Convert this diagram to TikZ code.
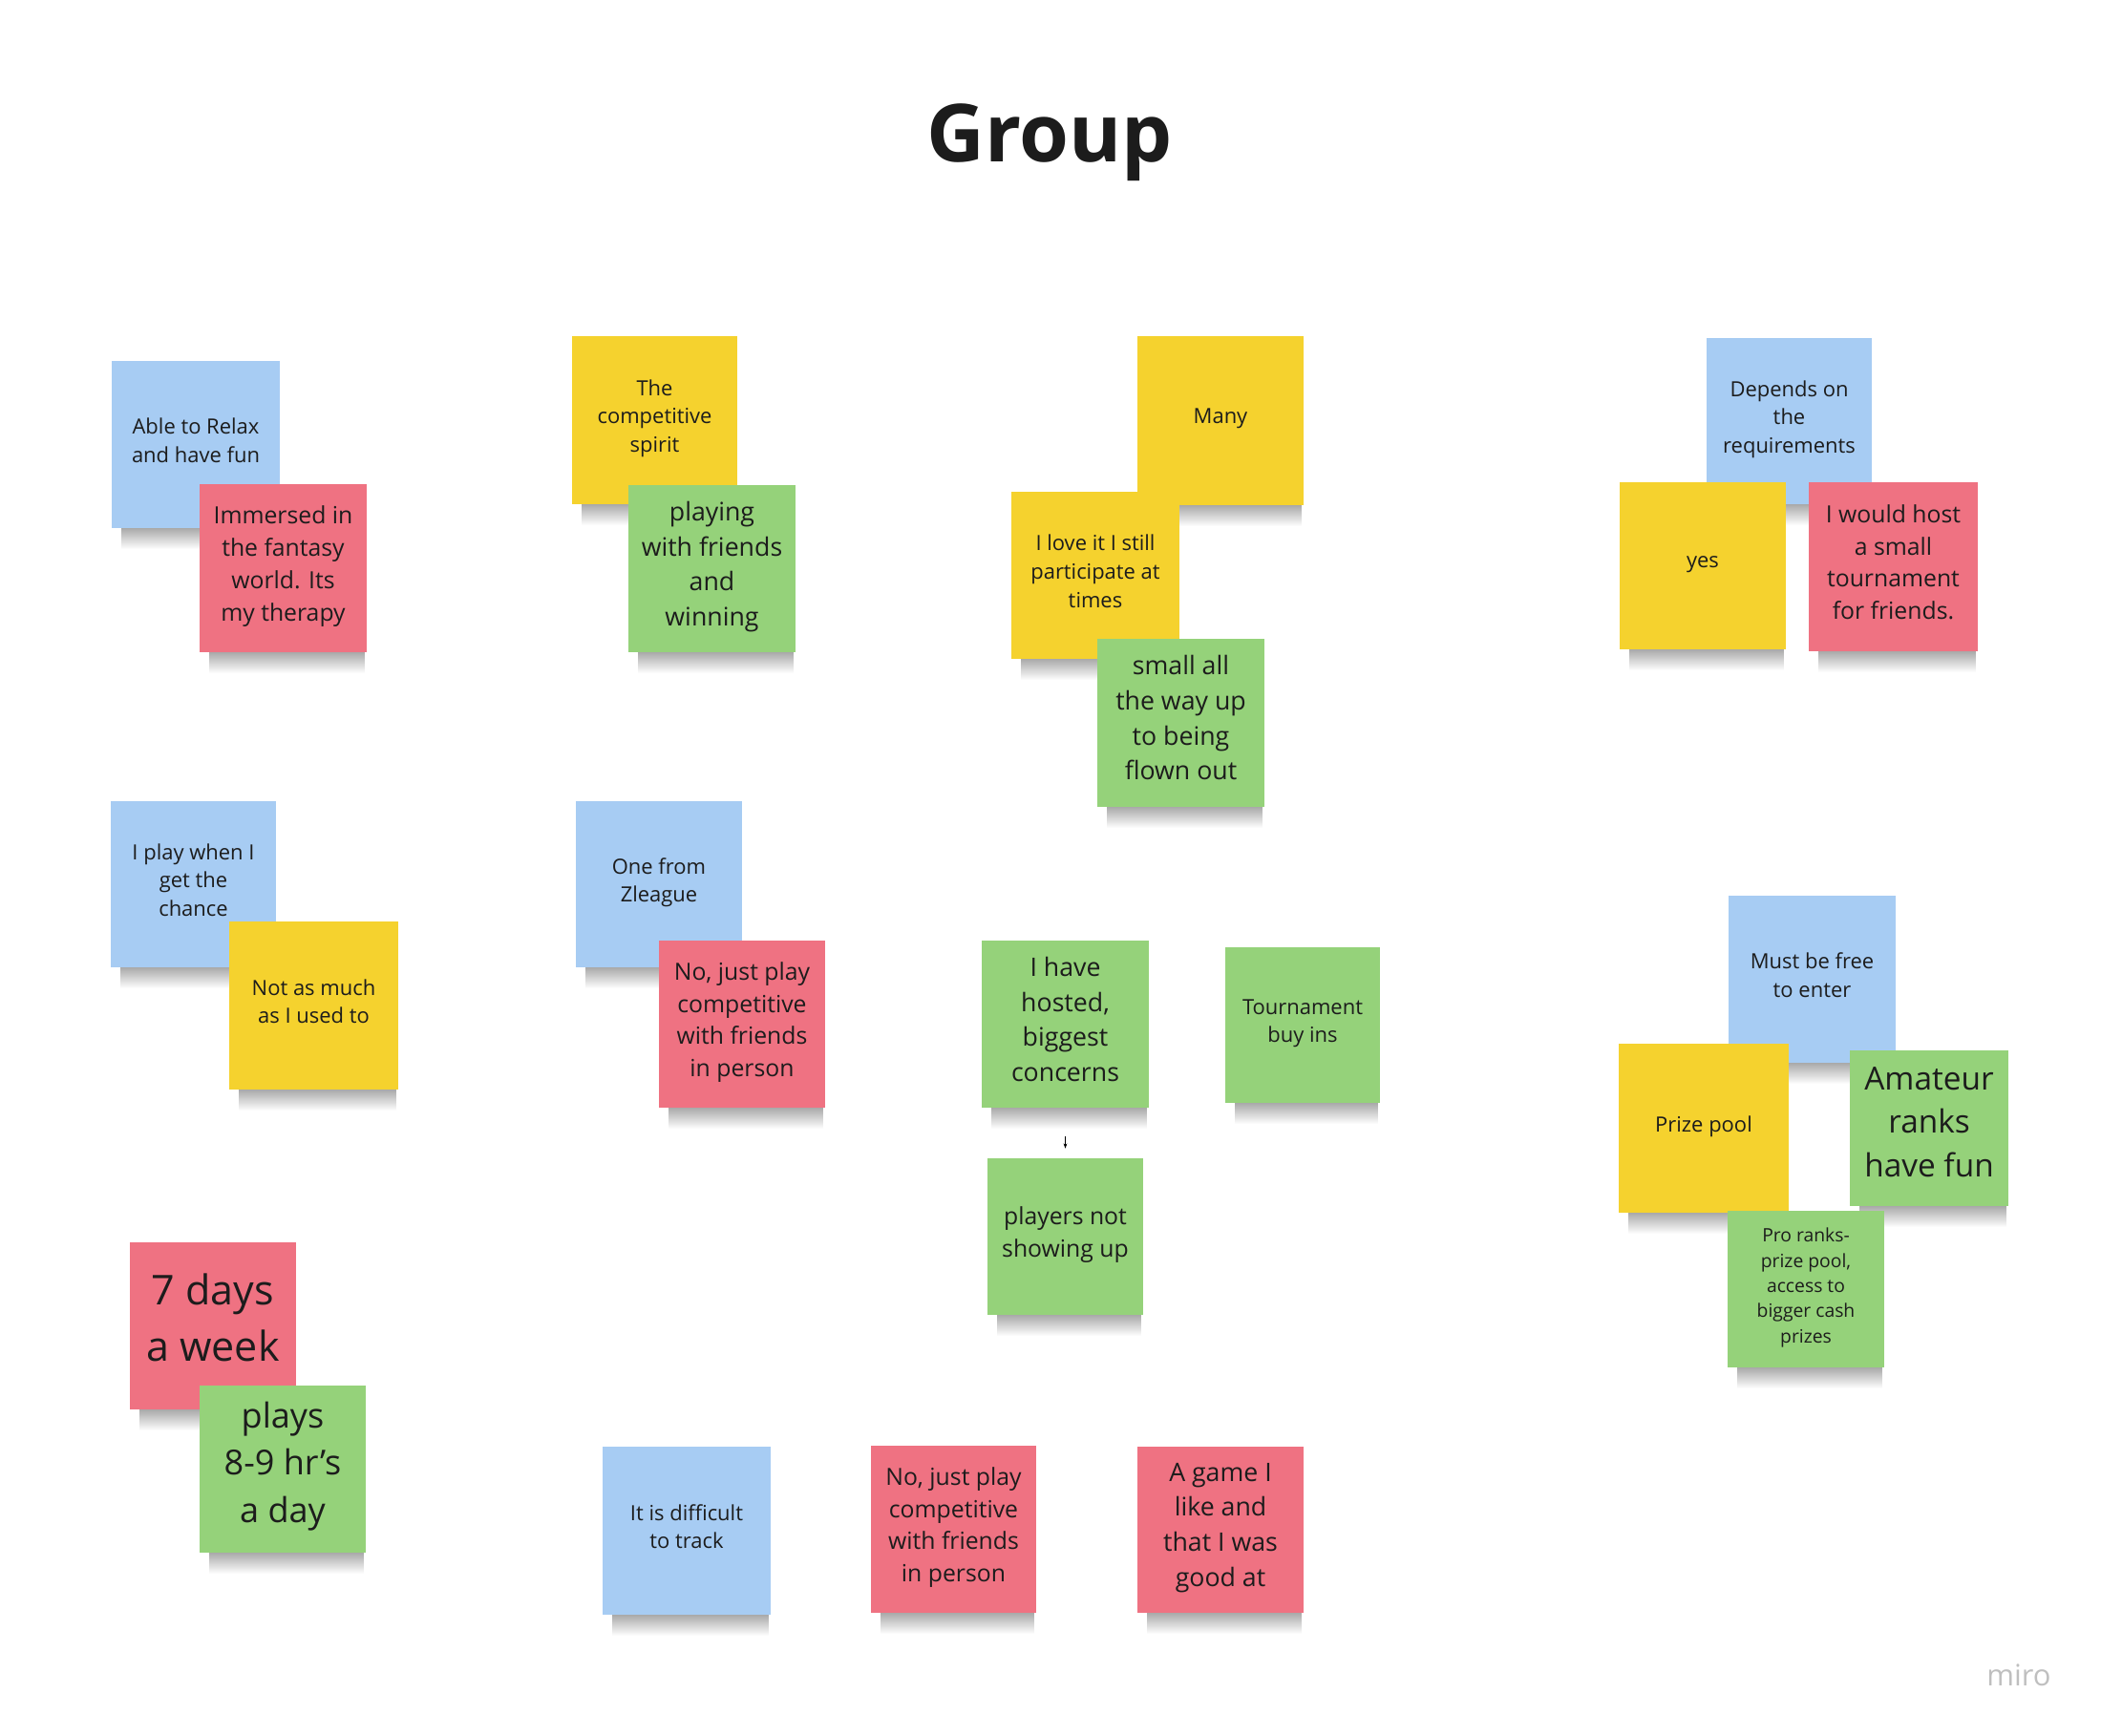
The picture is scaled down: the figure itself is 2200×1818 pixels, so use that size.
\documentclass[tikz,border=0pt]{standalone}
\usepackage{fontspec}
\setmainfont{Open Sans}
\usepackage{tikz}
\usetikzlibrary{fadings}
\usetikzlibrary{arrows.meta}
\definecolor{noteblue}{HTML}{A7CCF3}
\definecolor{noteyellow}{HTML}{F5D22E}
\definecolor{notered}{HTML}{EF7282}
\definecolor{notegreen}{HTML}{95D27A}
\definecolor{inkdark}{HTML}{1C1C1C}
\tikzfading[name=shadowfade, top color=transparent!0, bottom color=transparent!100]
\tikzset{
  note/.style={inner sep=0pt, align=center, text=inkdark},
  sizeS/.style={font=\fontsize{12.5}{17}\selectfont, text depth=5pt},
  sizeM/.style={font=\fontsize{14.1}{19.2}\selectfont, text depth=5.6pt},
  sizeL/.style={font=\fontsize{15.2}{20.8}\selectfont, text depth=6.1pt},
  sizeT/.style={font=\fontsize{11}{15}\selectfont, text depth=4.4pt},
  sizeXL/.style={font=\fontsize{19}{26}\selectfont, text depth=7.6pt},
  sizeXXL/.style={font=\fontsize{20.5}{27.9}\selectfont, text depth=8.2pt},
  sizeXXXL/.style={font=\fontsize{24.5}{33.6}\selectfont, text depth=9.8pt},
  tinyarrow/.style={line width=0.4pt, -{Stealth[length=3pt,width=2.2pt]}}
}
\newcommand{\sticky}[8]{ \pgfmathsetmacro\nw{(#5-#3)*0.02} \pgfmathsetmacro\nh{(#6-#4)*0.02} \fill[black, fill opacity=0.4, path fading=shadowfade] (#3+10, #6-4) rectangle (#5-2, #6+22); \node[note, fill=#2, #7, minimum width=\nw cm, minimum height=\nh cm] (#1) at ({(#3+#5)/2}, {(#4+#6)/2}) {#8};}

\begin{document}
\begin{tikzpicture}[x=0.02cm, y=-0.02cm]
        \useasboundingbox (0,0) rectangle (2200,1818);
        % title
        \node[anchor=base, text=inkdark, font=\fontsize{47.8}{56}\selectfont\bfseries] (title) at (1099,170) {Group};
        % column1
        \sticky{relax}{noteblue}{117}{378}{293}{553}{sizeS}{Able to Relax\\and have fun}
        \sticky{immersed}{notered}{209}{507}{384}{683}{sizeM}{Immersed in\\the fantasy\\world. Its\\my therapy}
        \sticky{chance}{noteblue}{116}{839}{289}{1013}{sizeS}{I play when I\\get the\\chance}
        \sticky{usedto}{noteyellow}{240}{965}{417}{1141}{sizeS}{Not as much\\as I used to}
        \sticky{week}{notered}{136}{1301}{310}{1476}{sizeXXXL}{7 days\\a week}
        \sticky{hours}{notegreen}{209}{1451}{383}{1626}{sizeXXL}{plays\\8-9 hr's\\a day}
        % column2
        \sticky{spirit}{noteyellow}{599}{352}{772}{528}{sizeS}{The\\competitive\\spirit}
        \sticky{playing}{notegreen}{658}{508}{833}{683}{sizeL}{playing\\with friends\\and\\winning}
        \sticky{zleague}{noteblue}{603}{839}{777}{1013}{sizeS}{One from\\Zleague}
        \sticky{justplay}{notered}{690}{985}{864}{1160}{sizeM}{No, just play\\competitive\\with friends\\in person}
        \sticky{track}{noteblue}{631}{1515}{807}{1691}{sizeS}{It is difficult\\to track}
        % column3
        \sticky{many}{noteyellow}{1191}{352}{1365}{529}{sizeS}{Many}
        \sticky{loveit}{noteyellow}{1059}{515}{1235}{690}{sizeS}{I love it I still\\participate at\\times}
        \sticky{flown}{notegreen}{1149}{669}{1324}{845}{sizeL}{small all\\the way up\\to being\\flown out}
        \sticky{hosted}{notegreen}{1028}{985}{1203}{1160}{sizeL}{I have\\hosted,\\biggest\\concerns}
        \sticky{buyins}{notegreen}{1283}{992}{1445}{1155}{sizeS}{Tournament\\buy ins}
        \sticky{players}{notegreen}{1034}{1213}{1197}{1377}{sizeM}{players not\\showing up}
        \draw[tinyarrow, shorten <=0.6cm, shorten >=0.2cm] (hosted.south) -- (players.north);
        \sticky{justplayb}{notered}{912}{1514}{1085}{1689}{sizeM}{No, just play\\competitive\\with friends\\in person}
        \sticky{goodat}{notered}{1191}{1515}{1365}{1689}{sizeL}{A game I\\like and\\that I was\\good at}
        % column4
        \sticky{depends}{noteblue}{1787}{354}{1960}{528}{sizeS}{Depends on\\the\\requirements}
        \sticky{yes}{noteyellow}{1696}{505}{1870}{680}{sizeS}{yes}
        \sticky{host}{notered}{1894}{505}{2071}{682}{sizeM}{I would host\\a small\\tournament\\for friends.}
        \sticky{free}{noteblue}{1810}{938}{1985}{1113}{sizeS}{Must be free\\to enter}
        \sticky{prize}{noteyellow}{1695}{1093}{1873}{1270}{sizeS}{Prize pool}
        \sticky{amateur}{notegreen}{1937}{1100}{2103}{1263}{sizeXL}{Amateur\\ranks\\have fun}
        \sticky{pro}{notegreen}{1809}{1268}{1973}{1432}{sizeT}{Pro ranks-\\prize pool,\\access to\\bigger cash\\prizes}
        % logo
        \node[anchor=base, text=black!25, font=\fontsize{17.6}{20}\selectfont] (logo) at (2114,1765) {miro};
\end{tikzpicture}
\end{document}
